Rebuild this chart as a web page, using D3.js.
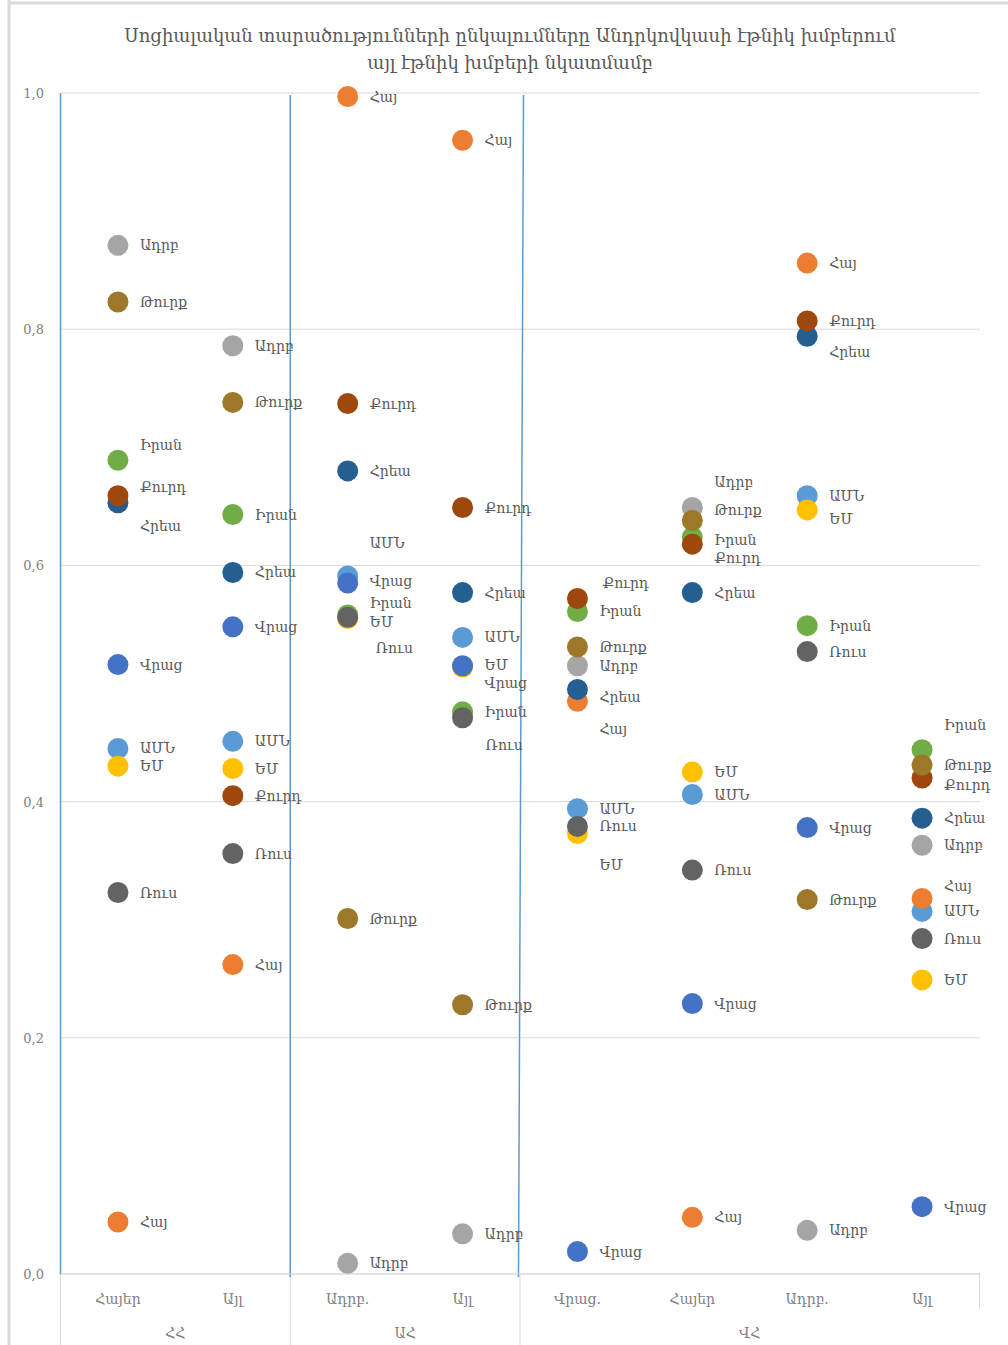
<!DOCTYPE html>
<html>
<head>
<meta charset="utf-8">
<script src="https://cdn.jsdelivr.net/npm/d3@7"></script>
<style>
  body { margin: 0; background: #fff; }
  svg { display: block; }
  text { font-family: "DejaVu Serif", serif; }
</style>
</head>
<body>
<svg width="1008" height="1345"></svg>
<script>
var width = 1008, height = 1345;

// categories on the x axis, and the groups they belong to
var categories = ["Հայեր", "Այլ", "Ադրբ.", "Այլ", "Վրաց.", "Հայեր", "Ադրբ.", "Այլ"];
var groupNames = ["ՀՀ", "ԱՀ", "ՎՀ"];
var groupSpans = [2, 2, 4];

// one array per series, one value per category
var seriesNames = ["ԱՄՆ", "Հայ", "Ադրբ", "ԵՄ", "Վրաց", "Իրան", "Հրեա", "Քուրդ", "Ռուս", "Թուրք"];
var usa     = [0.445, 0.451, 0.591, 0.539, 0.394, 0.406, 0.659, 0.307];
var arm     = [0.044, 0.262, 0.997, 0.960, 0.485, 0.048, 0.856, 0.318];
var aze     = [0.871, 0.786, 0.009, 0.034, 0.515, 0.649, 0.037, 0.363];
var eu      = [0.430, 0.428, 0.555, 0.514, 0.373, 0.425, 0.647, 0.249];
var geo     = [0.516, 0.548, 0.585, 0.515, 0.019, 0.229, 0.378, 0.057];
var iran    = [0.689, 0.643, 0.558, 0.476, 0.561, 0.624, 0.549, 0.444];
var jew     = [0.653, 0.594, 0.680, 0.577, 0.495, 0.577, 0.794, 0.386];
var kurd    = [0.659, 0.405, 0.737, 0.649, 0.572, 0.618, 0.807, 0.420];
var rus     = [0.323, 0.356, 0.556, 0.471, 0.379, 0.342, 0.527, 0.284];
var turk    = [0.823, 0.738, 0.301, 0.228, 0.531, 0.638, 0.317, 0.431];
var seriesValues = [usa, arm, aze, eu, geo, iran, jew, kurd, rus, turk];

var yTicks = [0, 0.2, 0.4, 0.6, 0.8, 1.0];

var colors = ["#5B9BD5", "#ED7D31", "#A5A5A5", "#FFC000", "#4472C4",
              "#70AD47", "#255E91", "#9E480E", "#636363", "#9C7828"];

// hand placed data labels in the original (category|series -> [dx, dy] px)
var labelNudge = {
  "0|Իրան": [0, -15], "0|Քուրդ": [0, -9], "0|Հրեա": [0, 23],
  "2|ԱՄՆ": [0, -33], "2|Վրաց": [0, -2], "2|Իրան": [0, -12], "2|ԵՄ": [0, 3], "2|Ռուս": [6, 31],
  "3|ԵՄ": [0, -2], "3|Վրաց": [0, 17], "3|Ռուս": [1, 27],
  "4|Քուրդ": [3, -15], "4|Հրեա": [0, 8], "4|Հայ": [0, 28], "4|ԵՄ": [0, 32],
  "5|Ադրբ": [0, -26], "5|Թուրք": [0, -11], "5|Իրան": [0, 3], "5|Քուրդ": [0, 14],
  "6|Հրեա": [0, 16], "6|ԵՄ": [0, 9],
  "7|Իրան": [0, -25], "7|Քուրդ": [0, 7], "7|Հայ": [0, -12]
};

var svg = d3.select('svg');

var x = d3.scaleBand()
  .domain(d3.range(categories.length))
  .range([60.5, 979.5]);

var y = d3.scaleLinear()
  .domain([0, 1])
  .range([1274, 93]);

var fmt = function(d) { return d3.format(".1f")(d).replace(".", ","); };

// outer frame of the chart
svg.append('line').attr('x1', 9).attr('x2', 9).attr('y1', 0).attr('y2', height)
  .attr('stroke', '#d9d9d9').attr('stroke-width', 3);
svg.append('line').attr('x1', 9).attr('x2', width).attr('y1', 3).attr('y2', 3)
  .attr('stroke', '#d9d9d9').attr('stroke-width', 3);

// title
var title = svg.append('text')
  .attr('x', 510).attr('y', 42)
  .attr('text-anchor', 'middle')
  .attr('fill', '#595959')
  .style('font-size', '18px');
title.append('tspan').attr('x', 510).attr('dy', 0)
  .text("Սոցիալական տարածությունների ընկալումները Անդրկովկասի էթնիկ խմբերում");
title.append('tspan').attr('x', 510).attr('dy', 27)
  .text("այլ էթնիկ խմբերի նկատմամբ");

// gridlines + y labels
var grid = svg.append('g');
grid.selectAll('line')
  .data(yTicks)
  .enter()
  .append('line')
  .attr('x1', 61).attr('x2', 980)
  .attr('y1', function(d) { return y(d); })
  .attr('y2', function(d) { return y(d); })
  .attr('stroke', '#d9d9d9')
  .attr('stroke-width', 1);
grid.selectAll('text')
  .data(yTicks)
  .enter()
  .append('text')
  .attr('x', 44)
  .attr('y', function(d) { return y(d) + 5; })
  .attr('text-anchor', 'end')
  .attr('fill', '#7f7f7f')
  .style('font-size', '13px')
  .text(fmt);

// x axis labels: categories and groups
var axisY = y(0);
svg.append('g').selectAll('text')
  .data(categories)
  .enter()
  .append('text')
  .attr('x', function(d, i) { return x(i) + x.bandwidth() / 2; })
  .attr('y', axisY + 30)
  .attr('text-anchor', 'middle')
  .attr('fill', '#7f7f7f')
  .style('font-size', '14px')
  .text(function(d) { return d; });

var starts = [0];
groupSpans.forEach(function(s, i) { starts.push(starts[i] + s); });

var gsep = svg.append('g');
starts.forEach(function(s, i) {
  var xx = s < categories.length ? x(s) : x.range()[1];
  gsep.append('line')
    .attr('x1', xx).attr('x2', xx)
    .attr('y1', axisY)
    .attr('y2', i === starts.length - 1 ? axisY + 35 : height)
    .attr('stroke', '#d9d9d9');
});
gsep.selectAll('text')
  .data(groupNames)
  .enter()
  .append('text')
  .attr('x', function(d, i) {
    var a = x(starts[i]);
    var b = starts[i + 1] < categories.length ? x(starts[i + 1]) : x.range()[1];
    return (a + b) / 2;
  })
  .attr('y', axisY + 64)
  .attr('text-anchor', 'middle')
  .attr('fill', '#7f7f7f')
  .style('font-size', '14px')
  .text(function(d) { return d; });

// blue separators drawn over the plot
var sepStarts = [0, starts[1], starts[2]];
sepStarts.forEach(function(s, i) {
  var xx = x(s);
  var top = i === 2 ? xx + 3.5 : xx;
  var bot = i === 2 ? xx - 1.5 : xx;
  svg.append('line')
    .attr('x1', top).attr('x2', bot)
    .attr('y1', y(1) + (i === 0 ? 0 : 2)).attr('y2', axisY + (i === 0 ? 0 : 3))
    .attr('stroke', '#5B9BD5')
    .attr('stroke-width', 1.5);
});

// x axis line
svg.append('line')
  .attr('x1', 61).attr('x2', 980)
  .attr('y1', axisY).attr('y2', axisY)
  .attr('stroke', '#d9d9d9');

// points, one series after another
var points = [];
seriesValues.forEach(function(vals, si) {
  vals.forEach(function(v, ci) {
    points.push({ s: si, name: seriesNames[si], c: ci, v: v });
  });
});

var cx = function(d) { return x(d.c) + x.bandwidth() / 2; };

svg.append('g').selectAll('circle')
  .data(points)
  .enter()
  .append('circle')
  .attr('cx', cx)
  .attr('cy', function(d) { return y(d.v); })
  .attr('r', 10.5)
  .style('fill', function(d) { return colors[d.s]; });

svg.append('g').selectAll('text')
  .data(points)
  .enter()
  .append('text')
  .attr('x', function(d) {
    var n = labelNudge[d.c + '|' + d.name] || [0, 0];
    return cx(d) + 22 + n[0];
  })
  .attr('y', function(d) {
    var n = labelNudge[d.c + '|' + d.name] || [0, 0];
    return y(d.v) + 5 + n[1];
  })
  .attr('fill', '#595959')
  .style('font-size', '14px')
  .text(function(d) { return d.name; });
</script>
</body>
</html>
